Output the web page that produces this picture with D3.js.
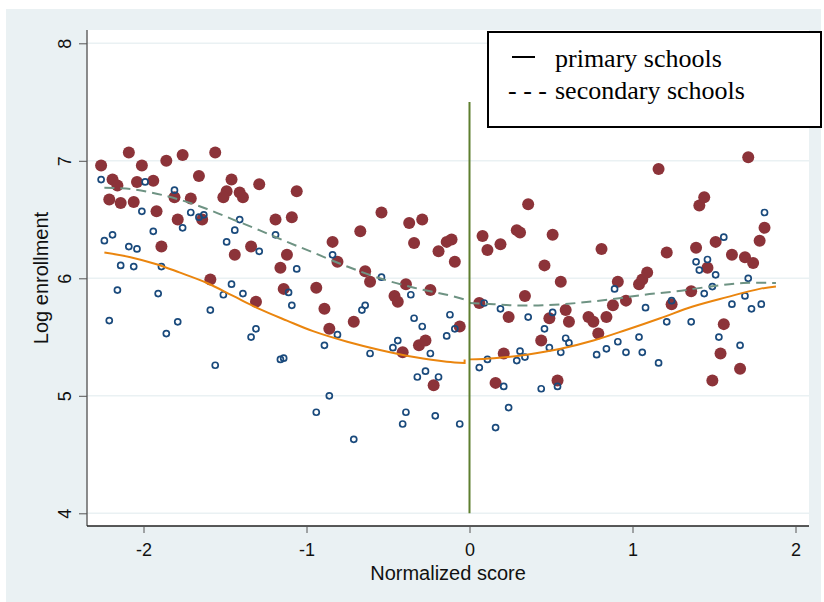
<!DOCTYPE html>
<html>
<head>
<meta charset="utf-8">
<script src="https://cdn.jsdelivr.net/npm/d3@7"></script>
<style>
  body { margin: 0; background: #fff; }
</style>
</head>
<body>
<div id="chart"></div>
<script>
// scatter: secondary schools (filled) and primary schools (hollow), [score, log enrollment]
const secondaryDots = [
  [-2.26,6.96],[-2.09,7.07],[-2.19,6.84],[-2.16,6.79],[-2.21,6.67],[-2.14,6.64],[-2.01,6.96],[-2.04,6.82],
  [-2.06,6.65],[-1.94,6.83],[-1.86,7.00],[-1.76,7.05],[-1.92,6.57],[-1.89,6.27],[-1.81,6.69],[-1.79,6.50],
  [-1.71,6.68],[-1.66,6.87],[-1.64,6.50],[-1.56,7.07],[-1.46,6.84],[-1.49,6.74],[-1.51,6.69],[-1.41,6.73],
  [-1.39,6.69],[-1.29,6.80],[-1.59,5.99],[-1.44,6.20],[-1.34,6.27],[-1.31,5.80],[-1.19,6.50],[-1.09,6.52],
  [-1.06,6.74],[-1.12,6.20],[-1.16,6.09],[-1.14,5.91],[-0.94,5.92],[-0.89,5.74],[-0.86,5.57],[-0.84,6.31],
  [-0.81,6.14],[-0.67,6.40],[-0.64,6.06],[-0.61,5.97],[-0.71,5.63],[-0.54,6.56],[-0.37,6.47],[-0.29,6.50],
  [-0.34,6.30],[-0.14,6.31],[-0.11,6.33],[-0.19,6.23],[-0.09,6.14],[-0.39,5.95],[-0.24,5.90],[-0.46,5.85],
  [-0.44,5.80],[-0.06,5.59],[-0.31,5.43],[-0.27,5.47],[-0.41,5.37],[-0.22,5.09],
  [0.08,6.36],[0.11,6.24],[0.19,6.29],[0.36,6.63],[0.29,6.41],[0.31,6.39],[0.51,6.37],[0.46,6.11],
  [0.56,5.97],[0.34,5.85],[0.06,5.79],[0.24,5.67],[0.59,5.73],[0.49,5.66],[0.61,5.63],[0.44,5.47],
  [0.21,5.36],[0.16,5.11],[0.54,5.13],[0.81,6.25],[0.73,5.67],[0.76,5.63],[0.79,5.53],[0.84,5.67],
  [0.88,5.77],[0.96,5.81],[0.91,5.97],[1.04,5.95],[1.06,5.99],[1.09,6.05],[1.16,6.93],[1.21,6.22],
  [1.24,5.78],[1.36,5.89],[1.39,6.26],[1.41,6.62],[1.44,6.69],[1.46,6.09],[1.51,6.31],[1.56,5.61],
  [1.54,5.36],[1.49,5.13],[1.66,5.23],[1.61,6.20],[1.69,6.18],[1.74,6.13],[1.71,7.03],[1.78,6.32],
  [1.81,6.43]
];

const primaryDots = [
  [-2.26,6.84],[-2.24,6.32],[-2.19,6.37],[-2.14,6.11],[-2.16,5.90],[-2.21,5.64],[-2.09,6.27],[-2.04,6.25],
  [-2.06,6.10],[-2.01,6.57],[-1.99,6.82],[-1.94,6.40],[-1.89,6.10],[-1.91,5.87],[-1.86,5.53],[-1.81,6.75],
  [-1.76,6.43],[-1.79,5.63],[-1.71,6.56],[-1.66,6.52],[-1.63,6.54],[-1.59,5.73],[-1.56,5.26],[-1.51,5.86],
  [-1.49,6.31],[-1.46,5.95],[-1.44,6.41],[-1.41,6.50],[-1.39,5.87],[-1.34,5.50],[-1.31,5.57],[-1.29,6.23],
  [-1.19,6.37],[-1.16,5.31],[-1.14,5.32],[-1.11,5.88],[-1.09,5.77],[-1.06,6.08],[-0.94,4.86],[-0.89,5.43],
  [-0.86,5.00],[-0.84,6.20],[-0.81,5.52],[-0.66,5.73],[-0.64,5.77],[-0.61,5.36],[-0.54,6.01],[-0.71,4.63],
  [-0.36,5.86],[-0.34,5.66],[-0.29,5.59],[-0.44,5.47],[-0.47,5.41],[-0.24,5.36],[-0.32,5.16],[-0.27,5.21],
  [-0.19,5.16],[-0.39,4.86],[-0.41,4.76],[-0.21,4.83],[-0.06,4.76],[-0.12,5.69],[-0.14,5.51],[-0.09,5.57],
  [0.06,5.24],[0.09,5.79],[0.11,5.31],[0.16,4.73],[0.21,5.08],[0.24,4.90],[0.19,5.74],[0.29,5.30],
  [0.31,5.38],[0.34,5.33],[0.36,5.67],[0.46,5.57],[0.49,5.41],[0.51,5.71],[0.44,5.06],[0.54,5.08],
  [0.56,5.37],[0.59,5.49],[0.61,5.45],[0.78,5.35],[0.84,5.40],[0.89,5.91],[0.91,5.46],[0.96,5.37],
  [1.04,5.50],[1.06,5.37],[1.08,5.75],[1.16,5.28],[1.21,5.63],[1.24,5.81],[1.36,5.63],[1.39,6.14],
  [1.41,6.07],[1.44,5.87],[1.46,6.16],[1.49,5.93],[1.51,6.03],[1.53,5.50],[1.56,6.35],[1.61,5.78],
  [1.66,5.43],[1.69,5.85],[1.71,6.00],[1.73,5.74],[1.79,5.78],[1.81,6.56]
];

// fitted curves, left and right of the cutoff
const primaryFitLeft = [
  [-2.24,6.22],[-2.08,6.18],[-1.92,6.12],[-1.78,6.05],[-1.61,5.96],[-1.45,5.85],[-1.29,5.74],
  [-1.12,5.64],[-0.96,5.55],[-0.75,5.46],[-0.55,5.39],[-0.34,5.33],[-0.14,5.29],[-0.03,5.28]
];
const primaryFitRight = [
  [0.00,5.31],[0.15,5.32],[0.35,5.35],[0.56,5.40],[0.76,5.47],[0.96,5.56],[1.17,5.66],
  [1.37,5.76],[1.58,5.84],[1.78,5.91],[1.88,5.93]
];
const secondaryFitLeft = [
  [-2.24,6.77],[-2.08,6.76],[-1.92,6.72],[-1.78,6.67],[-1.61,6.59],[-1.45,6.50],[-1.29,6.41],
  [-1.12,6.31],[-0.96,6.22],[-0.75,6.10],[-0.55,6.00],[-0.34,5.92],[-0.14,5.86],[-0.03,5.82]
];
const secondaryFitRight = [
  [0.00,5.79],[0.15,5.78],[0.25,5.77],[0.45,5.77],[0.66,5.79],[0.86,5.82],[1.07,5.86],
  [1.27,5.89],[1.48,5.93],[1.68,5.96],[1.88,5.96]
];
const endTick = 0.03; // small vertical mark where each left fit stops

const xTicks = [-2, -1, 0, 1, 2];
const yTicks = [4, 5, 6, 7, 8];
const cutoff = [0, 4, 7.5]; // x, from y, to y
const legendItems = ["primary schools", "secondary schools"];

const W = 824, H = 602;
const plot = { left: 87, right: 809, top: 30, bottom: 526 };
const sans = "'Liberation Sans', Arial, sans-serif";
const serif = "'Liberation Serif', 'Times New Roman', serif";

const svg = d3.select("#chart").append("svg")
  .attr("width", W)
  .attr("height", H);

// outer background
svg.append("rect")
  .attr("x", 6).attr("y", 9)
  .attr("width", 815).attr("height", 593)
  .attr("fill", "#eaf1f3");

svg.append("rect")
  .attr("x", plot.left).attr("y", plot.top)
  .attr("width", plot.right - plot.left).attr("height", plot.bottom - plot.top)
  .attr("fill", "#fff");

const x = d3.scaleLinear().domain([-2, 2]).range([143.5, 795.5]);
const y = d3.scaleLinear().domain([4, 8]).range([513.3, 43.3]);

// grid
svg.append("g")
  .selectAll("line")
  .data(yTicks)
  .join("line")
  .attr("x1", plot.left).attr("x2", plot.right)
  .attr("y1", d => y(d)).attr("y2", d => y(d))
  .attr("stroke", "#eaf1f3")
  .attr("stroke-width", 1.6);

// axes
const yAxis = svg.append("g")
  .attr("transform", `translate(${plot.left},0)`)
  .call(d3.axisLeft(y).tickValues(yTicks).tickSize(8).tickFormat(d3.format("d")));
yAxis.select(".domain").attr("d", `M0,${plot.top}V${plot.bottom}`).attr("stroke", "#666").attr("stroke-width", 1.5);
yAxis.selectAll(".tick line").attr("stroke", "#555");
yAxis.selectAll(".tick text")
  .attr("x", null).attr("dy", null)
  .attr("transform", "translate(-16,0) rotate(-90)")
  .attr("text-anchor", "middle")
  .attr("font-family", sans)
  .attr("font-size", 18)
  .attr("fill", "#111");

const xAxis = svg.append("g")
  .attr("transform", `translate(0,${plot.bottom})`)
  .call(d3.axisBottom(x).tickValues(xTicks).tickSize(7).tickFormat(d3.format("d")));
xAxis.select(".domain").attr("d", `M${plot.left},0H${plot.right}`).attr("stroke", "#222").attr("stroke-width", 1.5);
xAxis.selectAll(".tick line").attr("stroke", "#555");
xAxis.selectAll(".tick text")
  .attr("y", 30).attr("dy", null)
  .attr("font-family", sans)
  .attr("font-size", 18)
  .attr("fill", "#111")
  .text(d => d < 0 ? "-" + Math.abs(d) : d);

// axis titles
svg.append("text")
  .attr("transform", "translate(48,278) rotate(-90)")
  .attr("text-anchor", "middle")
  .attr("font-family", sans)
  .attr("font-size", 20)
  .attr("fill", "#111")
  .text("Log enrollment");

svg.append("text")
  .attr("x", 448).attr("y", 580)
  .attr("text-anchor", "middle")
  .attr("font-family", sans)
  .attr("font-size", 20)
  .attr("fill", "#111")
  .text("Normalized score");

// points
svg.append("g")
  .selectAll("circle")
  .data(secondaryDots)
  .join("circle")
  .attr("cx", d => x(d[0]))
  .attr("cy", d => y(d[1]))
  .attr("r", 6)
  .attr("fill", "#8c3339");

svg.append("g")
  .selectAll("circle")
  .data(primaryDots)
  .join("circle")
  .attr("cx", d => x(d[0]))
  .attr("cy", d => y(d[1]))
  .attr("r", 3)
  .attr("fill", "none")
  .attr("stroke", "#1a4a7c")
  .attr("stroke-width", 1.7);

// fitted lines
const line = d3.line()
  .x(d => x(d[0]))
  .y(d => y(d[1]))
  .curve(d3.curveCatmullRom.alpha(0.5));

function fitPath(pts, tick) {
  let d = line(pts);
  if (tick) {
    const last = pts[pts.length - 1];
    d += `L${x(last[0])},${y(last[1] + endTick)}`;
  }
  return d;
}

[[secondaryFitLeft, true], [secondaryFitRight, false]].forEach(([pts, tick]) => {
  svg.append("path")
    .attr("d", fitPath(pts, tick))
    .attr("fill", "none")
    .attr("stroke", "#6e9383")
    .attr("stroke-width", 2)
    .attr("stroke-dasharray", "10,6");
});

[[primaryFitLeft, true], [primaryFitRight, false]].forEach(([pts, tick]) => {
  svg.append("path")
    .attr("d", fitPath(pts, tick))
    .attr("fill", "none")
    .attr("stroke", "#ea850e")
    .attr("stroke-width", 2);
});

// cutoff line
svg.append("line")
  .attr("x1", x(cutoff[0])).attr("x2", x(cutoff[0]))
  .attr("y1", y(cutoff[1])).attr("y2", y(cutoff[2]))
  .attr("stroke", "#5e7f2f")
  .attr("stroke-width", 2);

// legend
const lg = svg.append("g");
lg.append("rect")
  .attr("x", 488).attr("y", 32)
  .attr("width", 333).attr("height", 95)
  .attr("fill", "#fff")
  .attr("stroke", "#000")
  .attr("stroke-width", 2);
lg.append("line")
  .attr("x1", 512).attr("x2", 535)
  .attr("y1", 57).attr("y2", 57)
  .attr("stroke", "#000")
  .attr("stroke-width", 2);
lg.append("text")
  .attr("x", 508).attr("y", 99)
  .attr("font-family", serif)
  .attr("font-size", 26)
  .text("- - -");
lg.selectAll("text.item")
  .data(legendItems)
  .join("text")
  .attr("class", "item")
  .attr("x", 555)
  .attr("y", (d, i) => 67 + i * 32)
  .attr("font-family", serif)
  .attr("font-size", 26)
  .attr("fill", "#000")
  .text(d => d);
</script>
</body>
</html>
